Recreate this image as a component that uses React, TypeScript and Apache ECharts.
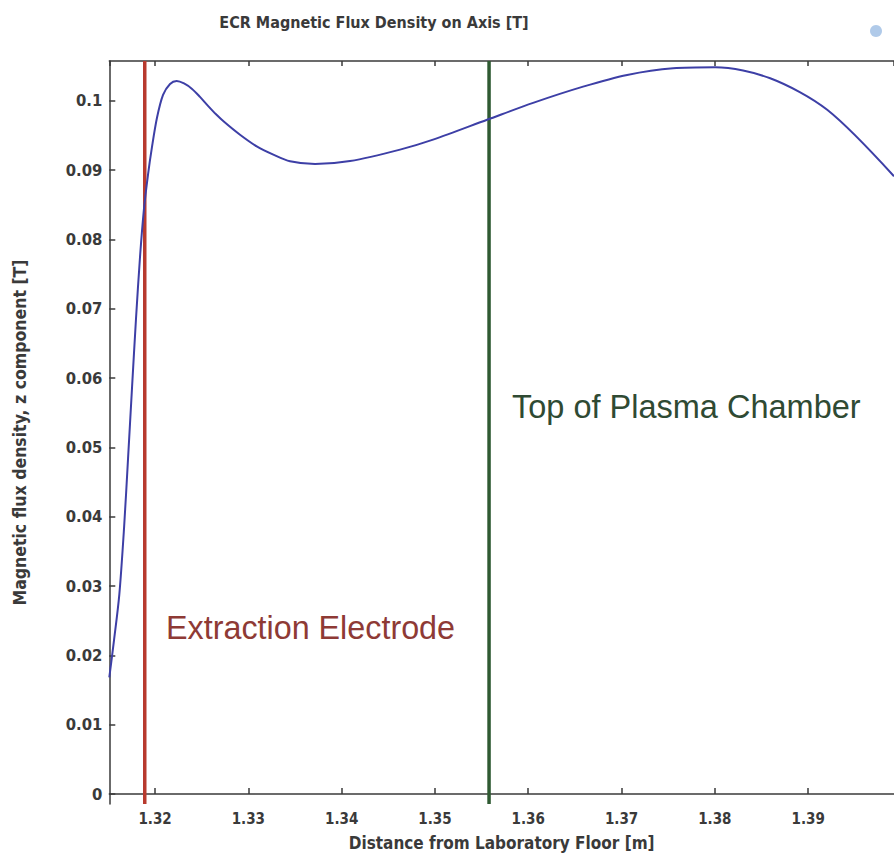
import React, { useEffect, useRef } from "react";
import * as echarts from "echarts";

// Distance from laboratory floor [m]
const distance = [
  1.3151, 1.3156, 1.31617, 1.31668, 1.31711, 1.31753, 1.31796, 1.31839, 1.31881,
  1.31925, 1.31968, 1.32021, 1.32086, 1.32161, 1.32232, 1.32311, 1.32397, 1.32482,
  1.32568, 1.32654, 1.3274, 1.32911, 1.3309, 1.33268, 1.33447, 1.33715, 1.3409,
  1.34626, 1.3498, 1.35559, 1.36052, 1.36588, 1.3706, 1.37553, 1.38003, 1.38593,
  1.39204, 1.3992,
];
// Magnetic flux density, z component [T]
const fluxDensity = [
  0.01681, 0.02213, 0.02873, 0.03836, 0.04842, 0.05848, 0.06853, 0.07744, 0.08434,
  0.08937, 0.09339, 0.09756, 0.10086, 0.10244, 0.10287, 0.10251, 0.10172, 0.10057,
  0.09928, 0.09806, 0.09698, 0.09511, 0.09343, 0.09224, 0.09128, 0.09088, 0.09131,
  0.09296, 0.0944, 0.09727, 0.09971, 0.10205, 0.10374, 0.1047, 0.10484, 0.10326,
  0.09871, 0.08912,
];

const electrodeX = 1.3189;
const chamberTopX = 1.3558;

const xMin = 1.3151;
const xMax = 1.3992;
const yMin = -0.00144;
const yMax = 0.10575;

const titleText = "ECR Magnetic Flux Density on Axis [T]";
const xName = "Distance from Laboratory Floor [m]";
const yName = "Magnetic flux density, z component [T]";
const electrodeLabel = "Extraction Electrode";
const chamberLabel = "Top of Plasma Chamber";

const axisFont = "'DejaVu Sans Condensed', 'DejaVu Sans', sans-serif";
const annFont = "'Liberation Sans', Arial, sans-serif";
const ink = "#3a3a3a";

export default function App() {
  const ref = useRef<HTMLDivElement>(null);
  useEffect(() => {
    if (!ref.current) return;
    const chart = echarts.init(ref.current, null, { renderer: "svg" });
    const axisLine = { show: true, lineStyle: { color: ink, width: 1.5 } };
    const tickStyle = { show: true, inside: true, length: 6, lineStyle: { color: ink, width: 1.5 } };
    chart.setOption({
      animation: false,
      backgroundColor: "#ffffff",
      title: {
        text: titleText,
        left: 369,
        top: 9,
        textAlign: "center",
        textStyle: { fontFamily: axisFont, fontSize: 16, fontWeight: "bold", color: ink },
      },
      grid: { left: 109.3, right: 0, top: 61, bottom: 49, containLabel: false },
      xAxis: [
        {
          type: "value",
          position: "bottom",
          min: xMin,
          max: xMax,
          splitNumber: 8,
          minInterval: 0.01,
          maxInterval: 0.01,
          name: xName,
          nameLocation: "middle",
          nameGap: 30,
          nameTextStyle: { fontFamily: axisFont, fontSize: 17, fontWeight: "bold", color: ink },
          axisLine,
          axisTick: tickStyle,
          splitLine: { show: false },
          axisLabel: {
            showMinLabel: false,
            showMaxLabel: false,
            margin: 7,
            fontFamily: axisFont,
            fontSize: 15,
            fontWeight: "bold",
            color: ink,
          },
        },
        {
          type: "value",
          position: "top",
          min: xMin,
          max: xMax,
          splitNumber: 8,
          minInterval: 0.01,
          maxInterval: 0.01,
          axisLine,
          axisTick: { ...tickStyle, length: 5 },
          splitLine: { show: false },
          axisLabel: { show: false },
        },
      ],
      yAxis: {
        type: "value",
        min: yMin,
        max: yMax,
        splitNumber: 10,
        minInterval: 0.01,
        maxInterval: 0.01,
        name: yName,
        nameLocation: "middle",
        nameGap: 80,
        nameTextStyle: { fontFamily: axisFont, fontSize: 17.5, fontWeight: "bold", color: ink },
        axisLine,
        axisTick: tickStyle,
        splitLine: { show: false },
        axisLabel: {
          showMinLabel: false,
          showMaxLabel: false,
          margin: 7,
          fontFamily: axisFont,
          fontSize: 16.5,
          fontWeight: "bold",
          color: ink,
        },
      },
      series: [
        {
          type: "line",
          name: "electrode",
          data: [[electrodeX, yMin], [electrodeX, yMax]],
          showSymbol: false,
          symbol: "none",
          lineStyle: { color: "#b83a2e", width: 3.5 },
          silent: true,
        },
        {
          type: "line",
          name: "chamber",
          data: [[chamberTopX, yMin], [chamberTopX, yMax]],
          showSymbol: false,
          symbol: "none",
          lineStyle: { color: "#2f5a32", width: 3.5 },
          silent: true,
        },
        {
          type: "line",
          name: "Bz",
          data: distance.map((d, i) => [d, fluxDensity[i]]),
          showSymbol: false,
          symbol: "none",
          smooth: 0.3,
          clip: true,
          lineStyle: { color: "#3d3fa6", width: 2 },
        },
      ],
      graphic: [
        {
          type: "text",
          left: 512,
          top: 390,
          style: { text: chamberLabel, font: `32.5px ${annFont}`, fill: "#2f4a33" },
        },
        {
          type: "text",
          left: 166,
          top: 612,
          style: { text: electrodeLabel, font: `32.3px ${annFont}`, fill: "#8e3a35" },
        },
        {
          type: "circle",
          shape: { cx: 876, cy: 31, r: 6 },
          style: { fill: "#8fb4e0", opacity: 0.7 },
        },
      ],
    });
    return () => chart.dispose();
  }, []);
  return (
    <div
      ref={ref}
      style={{ position: "absolute", left: 0, top: 0, width: 894, height: 856 }}
    />
  );
}
